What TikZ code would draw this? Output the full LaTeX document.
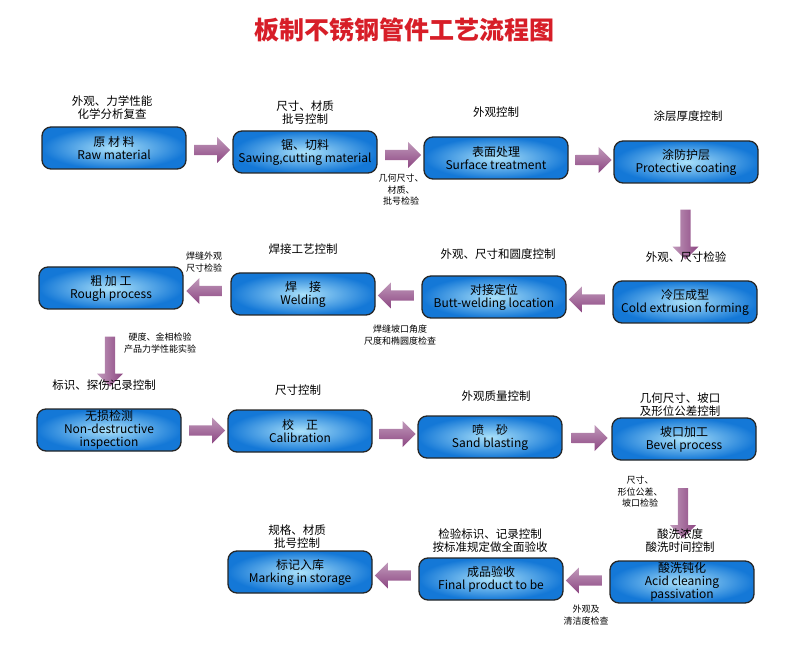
\documentclass[tikz,border=0pt]{standalone}
\usepackage{fontspec}
\setmainfont{Noto Sans CJK SC}
\usetikzlibrary{shapes.arrows,calc}
\definecolor{boxedge}{RGB}{20,120,215}
\definecolor{boxmid}{RGB}{170,225,250}
\definecolor{arrowc}{RGB}{140,70,130}
\definecolor{titlec}{RGB}{215,30,40}
\tikzset{
  stage/.style={draw=black!85,line width=1.3pt,rounded corners=9pt,minimum width=144pt,minimum height=42pt,
    inner color=boxmid,outer color=boxedge,align=center,font=\fontsize{12}{13}\selectfont,inner sep=1pt},
  flow/.style={single arrow,draw=none,top color=arrowc!55,bottom color=arrowc,minimum height=36pt,
    minimum width=26pt,single arrow head extend=5pt,inner sep=3pt},
  down/.style={flow,shape border rotate=270,left color=arrowc!55,right color=arrowc,minimum height=50pt},
  note/.style={align=center,font=\fontsize{11.5}{13}\selectfont},
  small/.style={align=center,font=\fontsize{9}{11.5}\selectfont}
}
\begin{document}
\begin{tikzpicture}[x=1pt,y=1pt]
\useasboundingbox (0,0) rectangle (800,646);
\node[text=titlec,font=\fontsize{25}{27}\bfseries] (title) at (404,616) {板制不锈钢管件工艺流程图};
% first row
\node[stage] (raw)  at (114,498) {原 材 料\\Raw material};
\node[stage] (saw)  at (305,494) {锯、切料\\Sawing,cutting material};
\node[stage] (surf) at (496,488) {表面处理\\Surface treatment};
\node[stage] (coat) at (686,484) {涂防护层\\Protective coating};
% second row
\node[stage] (cold) at (685,344) {冷压成型\\Cold extrusion forming};
\node[stage] (butt) at (494,349) {对接定位\\Butt-welding location};
\node[stage] (weld) at (303,352) {焊　接\\Welding};
\node[stage] (rough) at (111,358) {粗 加 工\\Rough process};
% third row
\node[stage] (ndt)  at (109,216) {无损检测\\Non-destructive\\inspection};
\node[stage] (cal)  at (300,215) {校　正\\Calibration};
\node[stage] (sand) at (490,209) {喷　砂\\Sand blasting};
\node[stage] (bev)  at (684,207) {坡口加工\\Bevel process};
% fourth row
\node[stage] (acid) at (682,64) {酸洗钝化\\Acid cleaning\\passivation};
\node[stage] (final) at (491,67) {成品验收\\Final product to be};
\node[stage] (mark) at (300,74) {标记入库\\Marking in storage};
% arrows
\node[flow] (a1) at ($(raw)!0.5!(saw)$) {};
\node[flow] (a2) at ($(saw)!0.5!(surf)$) {};
\node[flow] (a3) at ($(surf)!0.5!(coat)$) {};
\node[down] (a4) at ($(coat)!0.5!(cold)$) {};
\node[flow,shape border rotate=180] (a5) at ($(cold)!0.5!(butt)$) {};
\node[flow,shape border rotate=180] (a6) at ($(butt)!0.5!(weld)$) {};
\node[flow,shape border rotate=180] (a7) at ($(weld)!0.5!(rough)$) {};
\node[down] (a8) at ($(rough)!0.5!(ndt)$) {};
\node[flow] (a9) at ($(ndt)!0.5!(cal)$) {};
\node[flow] (a10) at ($(cal)!0.5!(sand)$) {};
\node[flow] (a11) at ($(sand)!0.5!(bev)$) {};
\node[down] (a12) at ($(bev)!0.5!(acid)$) {};
\node[flow,shape border rotate=180] (a13) at ($(acid)!0.5!(final)$) {};
\node[flow,shape border rotate=180] (a14) at ($(final)!0.5!(mark)$) {};
% notes
\node[note] (n1) at (112,538) {外观、力学性能\\化学分析复查};
\node[note] (n2) at (305,533) {尺寸、材质\\批号控制};
\node[note] (n3) at (496,534) {外观控制};
\node[note] (n4) at (688,530) {涂层厚度控制};
\node[small] (n5) at (401,456) {几何尺寸、\\材质、\\批号检验};
\node[note] (n6) at (686,389) {外观、尺寸检验};
\node[note] (n7) at (498,392) {外观、尺寸和圆度控制};
\node[note] (n8) at (303,397) {焊接工艺控制};
\node[small] (n9) at (204,384) {焊缝外观\\尺寸检验};
\node[small] (n10) at (400,311) {焊缝坡口角度\\尺度和椭圆度检查};
\node[small] (n11) at (160,303) {硬度、金相检验\\产品力学性能实验};
\node[note] (n12) at (104,261) {标识、探伤记录控制};
\node[note] (n13) at (298,256) {尺寸控制};
\node[note] (n14) at (496,250) {外观质量控制};
\node[note] (n15) at (680,241) {几何尺寸、坡口\\及形位公差控制};
\node[small] (n16) at (640,154) {尺寸、\\形位公差、\\坡口检验};
\node[note] (n17) at (680,105) {酸洗浓度\\酸洗时间控制};
\node[note] (n18) at (490,105) {检验标识、记录控制\\按标准规定做全面验收};
\node[note] (n19) at (297,109) {规格、材质\\批号控制};
\node[small] (n20) at (586,31) {外观及\\清洁度检查};
\end{tikzpicture}
\end{document}
